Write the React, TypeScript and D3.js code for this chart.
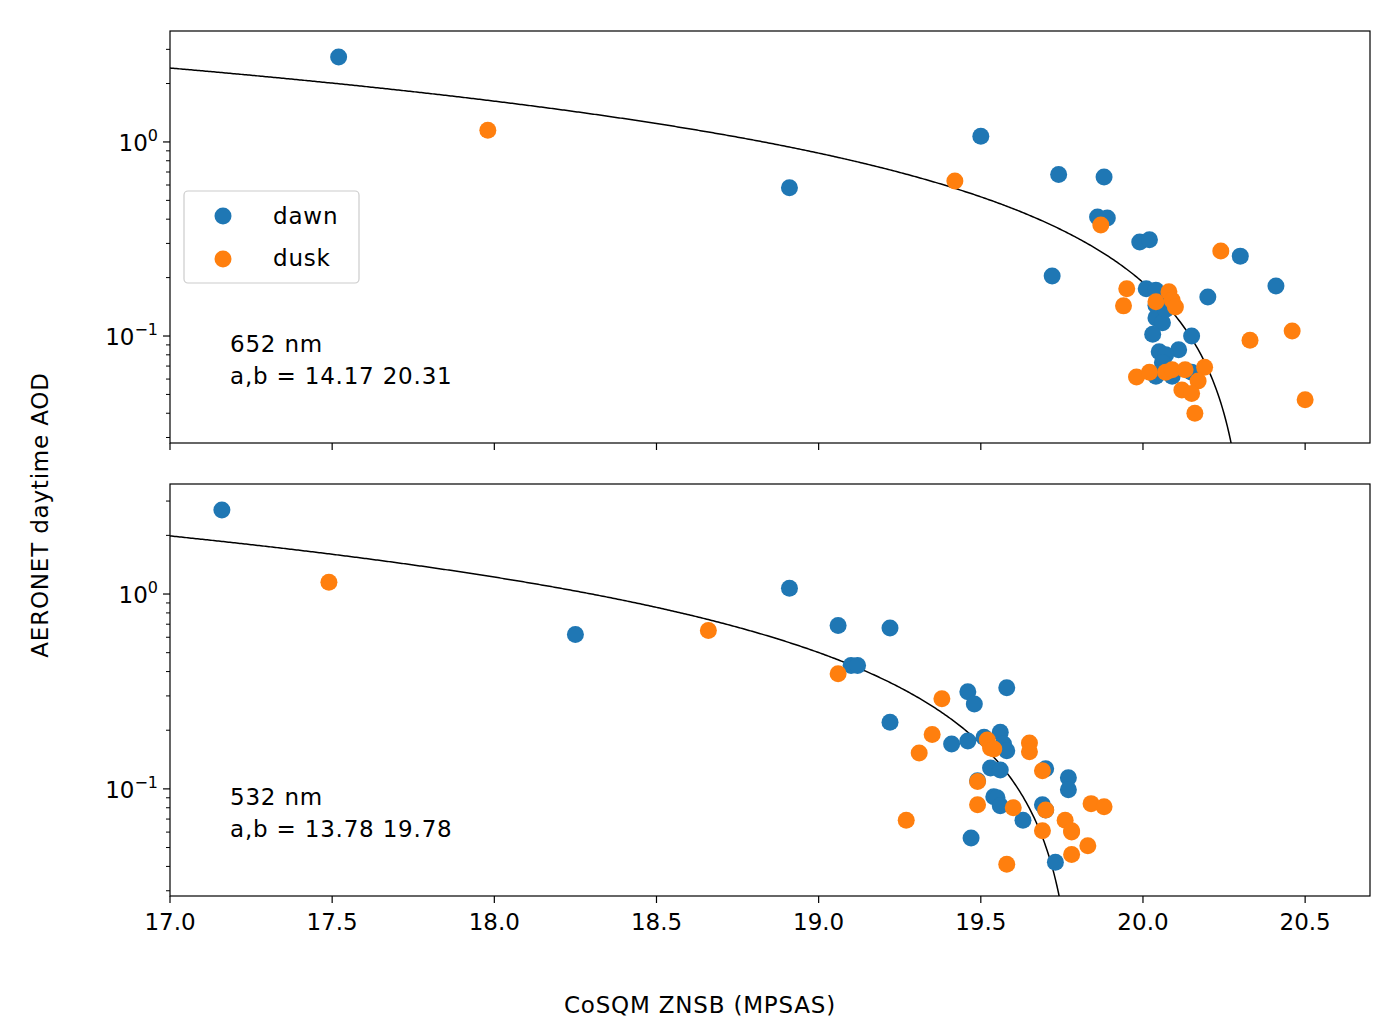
import React from "react";
import * as d3 from "d3";

const dawnTop: [number, number][] = [
  [17.52, 2.74], [18.91, 0.58], [19.5, 1.07], [19.74, 0.68], [19.88, 0.66], [19.72, 0.204],
  [19.86, 0.41], [19.89, 0.406], [19.99, 0.305], [20.02, 0.313], [20.01, 0.175], [20.04, 0.172],
  [20.06, 0.153], [20.04, 0.144], [20.04, 0.124], [20.06, 0.117], [20.03, 0.102], [20.07, 0.137],
  [20.15, 0.1], [20.11, 0.085], [20.05, 0.083], [20.07, 0.08], [20.06, 0.073], [20.08, 0.067],
  [20.04, 0.062], [20.09, 0.062], [20.15, 0.065], [20.2, 0.159], [20.3, 0.258], [20.41, 0.181],
];
const duskTop: [number, number][] = [
  [17.98, 1.15], [19.42, 0.63], [19.87, 0.373], [19.95, 0.175], [19.94, 0.143], [20.04, 0.15],
  [20.08, 0.169], [20.09, 0.153], [20.1, 0.141], [20.24, 0.274], [19.98, 0.0615], [20.02, 0.065],
  [20.07, 0.065], [20.09, 0.067], [20.13, 0.067], [20.19, 0.069], [20.17, 0.0586], [20.12, 0.0527],
  [20.15, 0.0505], [20.16, 0.04], [20.33, 0.095], [20.46, 0.106], [20.5, 0.047],
];
const dawnBot: [number, number][] = [
  [17.16, 2.7], [18.25, 0.62], [18.91, 1.07], [19.06, 0.69], [19.22, 0.67], [19.1, 0.43],
  [19.12, 0.43], [19.22, 0.22], [19.41, 0.17], [19.46, 0.176], [19.46, 0.315], [19.48, 0.273],
  [19.51, 0.184], [19.53, 0.128], [19.49, 0.11], [19.58, 0.33], [19.56, 0.195], [19.57, 0.17],
  [19.58, 0.157], [19.56, 0.125], [19.54, 0.091], [19.55, 0.09], [19.56, 0.082], [19.63, 0.069],
  [19.7, 0.127], [19.77, 0.114], [19.77, 0.099], [19.69, 0.083], [19.7, 0.078], [19.73, 0.042],
  [19.47, 0.056],
];
const duskBot: [number, number][] = [
  [17.49, 1.15], [18.66, 0.65], [19.06, 0.39], [19.38, 0.29], [19.35, 0.19], [19.31, 0.153],
  [19.27, 0.069], [19.49, 0.109], [19.49, 0.083], [19.52, 0.178], [19.53, 0.162], [19.54, 0.16],
  [19.6, 0.08], [19.65, 0.172], [19.65, 0.155], [19.69, 0.124], [19.69, 0.061], [19.7, 0.078],
  [19.76, 0.069], [19.78, 0.06], [19.78, 0.061], [19.84, 0.084], [19.88, 0.081], [19.83, 0.051],
  [19.78, 0.046], [19.58, 0.041],
];
const xTicks = [17.0, 17.5, 18.0, 18.5, 19.0, 19.5, 20.0, 20.5];

const BLUE = "#1f77b4", ORANGE = "#ff7f0e";
const L = 170, R = 1370;
const FS = 23;
const x = d3.scaleLinear().domain([17.0, 20.7]).range([L, R]);

function Panel({ top, bottom, dawn, dusk, a, b, label, showX, legend, yDom }: any) {
  const y = d3.scaleLog().domain(yDom).range([bottom, top]);
  const minor: number[] = [];
  for (const dec of [0.01, 0.1, 1]) for (let k = 2; k <= 9; k++) {
    const v = dec * k; if (v >= yDom[0] && v <= yDom[1]) minor.push(v);
  }
  const bb = b + 0.02;
  const curveX = d3.range(17.0, bb, 0.005).concat([bb - 0.0001]);
  const line = d3.line<number>().x(v => x(v)).y(v => y(Math.max(0.64 * Math.pow(bb - v, 1.1), 1e-4)));
  const clipId = "c" + top;
  return (
    <g>
      <defs><clipPath id={clipId}><rect x={L} y={top} width={R - L} height={bottom - top} /></clipPath></defs>
      <path d={line(curveX) || ""} fill="none" stroke="#000" strokeWidth={1.5} clipPath={`url(#${clipId})`} />
      {dawn.map((p: number[], i: number) => <circle key={"a" + i} cx={x(p[0])} cy={y(p[1])} r={8.5} fill={BLUE} />)}
      {dusk.map((p: number[], i: number) => <circle key={"b" + i} cx={x(p[0])} cy={y(p[1])} r={8.5} fill={ORANGE} />)}
      <rect x={L} y={top} width={R - L} height={bottom - top} fill="none" stroke="#000" strokeWidth={1.2} />
      {xTicks.map(t => (
        <g key={t}>
          <line x1={x(t)} x2={x(t)} y1={bottom} y2={bottom + 7} stroke="#000" strokeWidth={1.2} />
          {showX && <text x={x(t)} y={bottom + 34} textAnchor="middle" fontSize={FS}>{t.toFixed(1)}</text>}
        </g>
      ))}
      {minor.map(v => <line key={v} x1={L - 4} x2={L} y1={y(v)} y2={y(v)} stroke="#000" strokeWidth={1} />)}
      {[0.1, 1].map(v => (
        <g key={v}>
          <line x1={L - 7} x2={L} y1={y(v)} y2={y(v)} stroke="#000" strokeWidth={1.2} />
          <text x={L - 12} y={y(v) + 9} textAnchor="end" fontSize={FS}>
            10<tspan dy={-10} fontSize={16}>{v === 1 ? "0" : "\u22121"}</tspan>
          </text>
        </g>
      ))}
      <text x={230} y={bottom - 91} fontSize={FS} letterSpacing={0.8}>{label}</text>
      <text x={230} y={bottom - 59} fontSize={FS} letterSpacing={0.8}>{`a,b = ${a.toFixed(2)} ${b.toFixed(2)}`}</text>
      {legend && (
        <g>
          <rect x={184} y={191} width={175} height={92} rx={4} fill="#fff" stroke="#ccc" strokeWidth={1.2} />
          <circle cx={223} cy={216} r={8.5} fill={BLUE} />
          <text x={273} y={224} fontSize={FS} letterSpacing={0.8}>dawn</text>
          <circle cx={223} cy={259} r={8.5} fill={ORANGE} />
          <text x={273} y={266} fontSize={FS} letterSpacing={0.8}>dusk</text>
        </g>
      )}
    </g>
  );
}

export default function App() {
  return (
    <svg width={1400} height={1031} style={{ position: "absolute", left: 0, top: 0, fontFamily: "DejaVu Sans" }}>
      <rect width={1400} height={1031} fill="#fff" />
      <Panel top={31} bottom={443} dawn={dawnTop} dusk={duskTop} a={14.17} b={20.31} label="652 nm" showX={false} legend yDom={[0.0281, 3.73]} />
      <Panel top={484} bottom={896} dawn={dawnBot} dusk={duskBot} a={13.78} b={19.78} label="532 nm" showX legend={false} yDom={[0.0282, 3.67]} />
      <text transform="translate(48,515) rotate(-90)" textAnchor="middle" fontSize={FS} letterSpacing={0.8}>AERONET daytime AOD</text>
      <text x={700} y={1013} textAnchor="middle" fontSize={FS} letterSpacing={0.8}>CoSQM ZNSB (MPSAS)</text>
    </svg>
  );
}
